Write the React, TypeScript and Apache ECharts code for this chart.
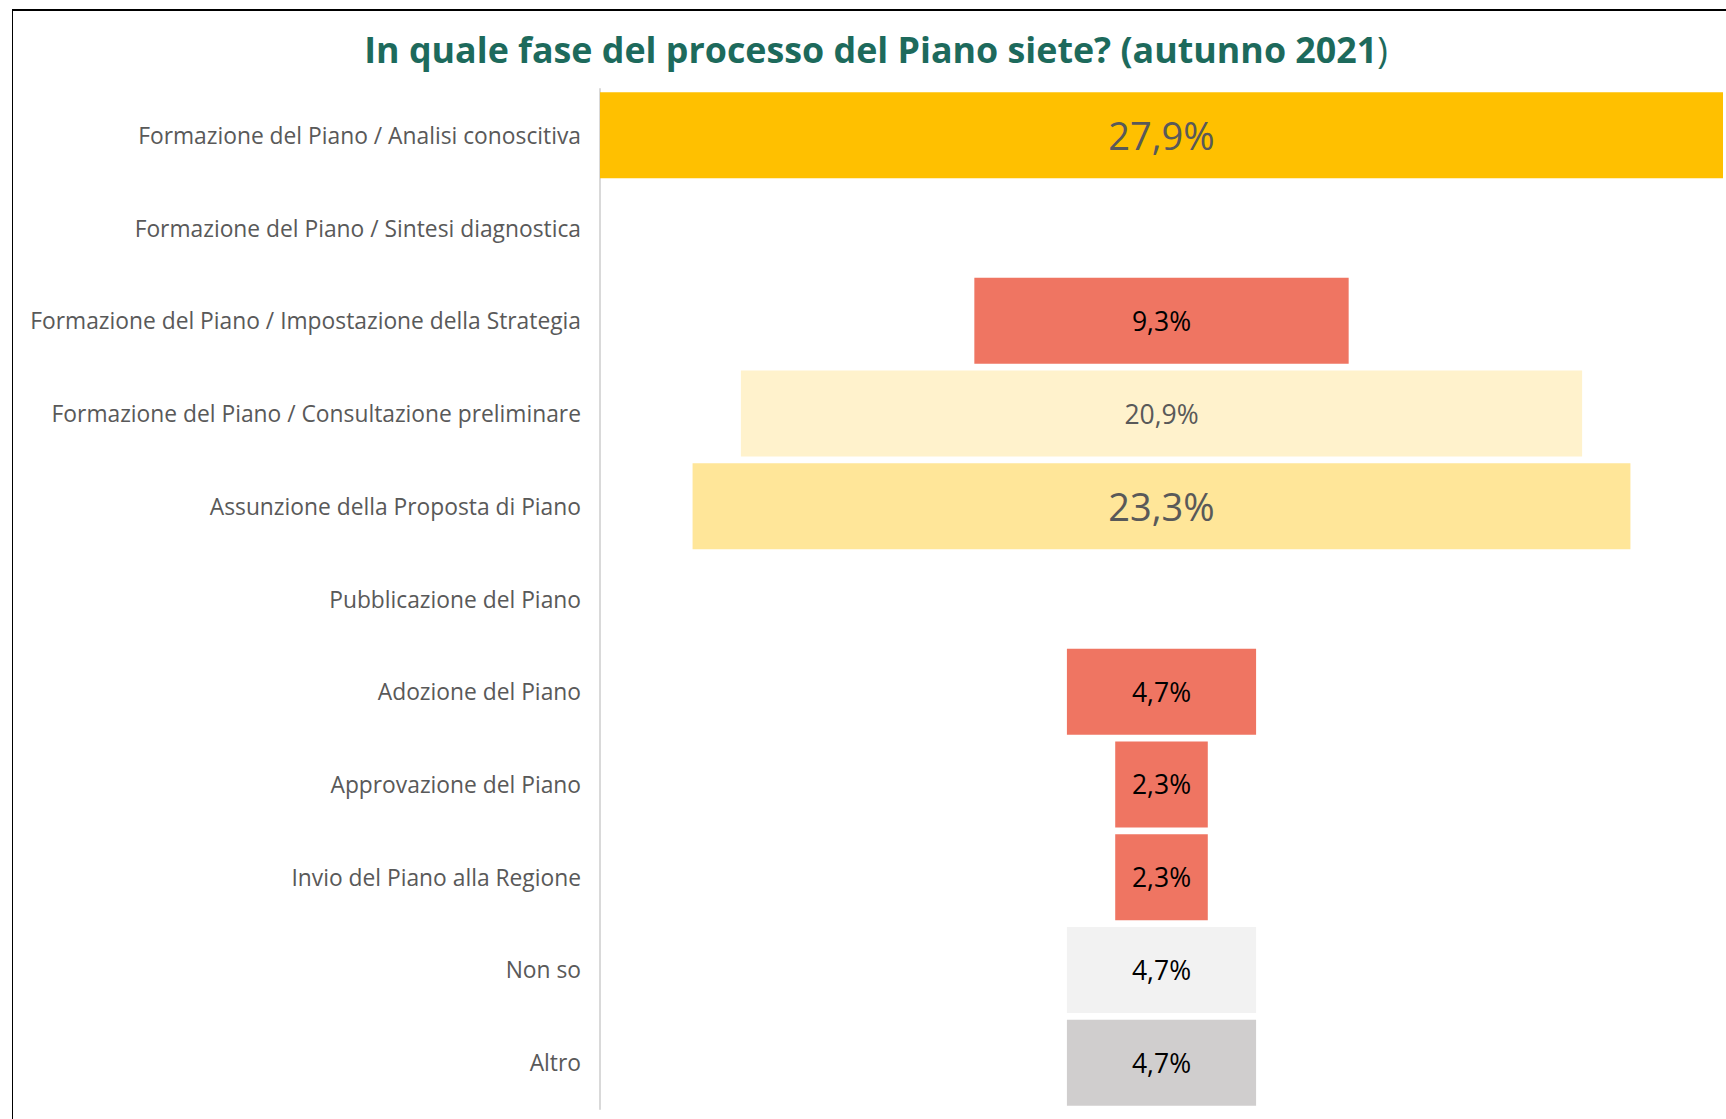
import React, { useEffect, useRef } from "react";
import * as echarts from "echarts";

const categories = [
  "Formazione del Piano / Analisi conoscitiva",
  "Formazione del Piano / Sintesi diagnostica",
  "Formazione del Piano / Impostazione della Strategia",
  "Formazione del Piano / Consultazione preliminare",
  "Assunzione della Proposta di Piano",
  "Pubblicazione del Piano",
  "Adozione del Piano",
  "Approvazione del Piano",
  "Invio del Piano alla Regione",
  "Non so",
  "Altro",
];
const values = [27.9, 0, 9.3, 20.9, 23.3, 0, 4.7, 2.3, 2.3, 4.7, 4.7];

const barColors = [
  "#FFC000", "#FFC000", "#EF7562", "#FFF2CC", "#FFE699", "#EF7562",
  "#EF7562", "#EF7562", "#EF7562", "#F2F2F2", "#D0CECE",
];
const labelColors = [
  "#595959", "#595959", "#000000", "#595959", "#595959", "#000000",
  "#000000", "#000000", "#000000", "#000000", "#000000",
];
const labelSizes = [38, 26.5, 26.5, 26.5, 38, 26.5, 26.5, 26.5, 26.5, 26.5, 26.5];

const FONT = "'Open Sans', 'Noto Sans', sans-serif";

export default function App() {
  const ref = useRef<HTMLDivElement>(null);
  useEffect(() => {
    document.body.style.margin = "0";
    const chart = echarts.init(ref.current!, null, { renderer: "svg" });
    const maxV = Math.max(...values);
    const offsets = values.map((v) => +((maxV - v) / 2).toFixed(3));
    chart.setOption({
      animation: false,
      backgroundColor: "#ffffff",
      title: {
        text: "{b|In quale fase del processo del Piano siete? (autunno 2021}{n|)}",
        left: 871,
        textAlign: "center",
        top: 26,
        textStyle: {
          rich: {
            b: { fontFamily: FONT, fontWeight: "bold", fontSize: 35.8, color: "#1D6A5C" },
            n: { fontFamily: FONT, fontWeight: "normal", fontSize: 35.8, color: "#1D6A5C" },
          },
        },
      },
      graphic: [
        { type: "line", shape: { x1: 12, y1: 10, x2: 1726, y2: 10 }, style: { stroke: "#000", lineWidth: 2 } },
        { type: "line", shape: { x1: 12.5, y1: 10, x2: 12.5, y2: 1119 }, style: { stroke: "#000", lineWidth: 1 } },
      ],
      grid: { left: 600, top: 89, width: 1123, height: 1020 },
      xAxis: { type: "value", min: 0, max: maxV, show: false },
      yAxis: {
        type: "category",
        inverse: true,
        data: categories,
        axisLine: { show: true, lineStyle: { color: "#D9D9D9", width: 2 } },
        axisTick: { show: false },
        axisLabel: { margin: 19, color: "#595959", fontSize: 22.8, fontFamily: FONT, padding: [3, 0, 0, 0] },
      },
      series: [
        {
          type: "bar",
          stack: "f",
          silent: true,
          barWidth: 86,
          itemStyle: { color: "transparent" },
          data: offsets,
        },
        {
          type: "bar",
          stack: "f",
          barWidth: 86,
          data: values.map((v, i) => ({
            value: v,
            itemStyle: { color: barColors[i] },
            label: {
              show: v > 0,
              position: "inside",
              color: labelColors[i],
              fontSize: labelSizes[i],
              fontFamily: FONT,
              formatter: () => v.toFixed(1).replace(".", ",") + "%",
            },
          })),
        },
      ],
    });
    return () => chart.dispose();
  }, []);
  return <div ref={ref} style={{ position: "absolute", left: 0, top: 0, width: 1726, height: 1119 }} />;
}
